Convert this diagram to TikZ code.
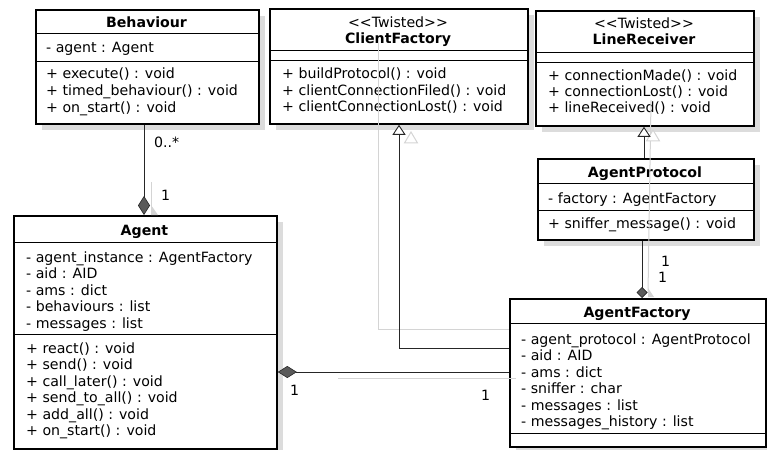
\documentclass[tikz,border=0pt]{standalone}
\usepackage{fontspec}
\setmainfont{DejaVu Sans}
\usetikzlibrary{arrows.meta,shadows}

\definecolor{shadowc}{HTML}{DCDCDC}
\definecolor{ghostc}{HTML}{D4D4D4}
\definecolor{diamc}{HTML}{5A5A5A}

\tikzset{
  classbox/.style={draw=black, line width=1.8pt, fill=white, inner sep=0pt,
    rectangle, anchor=north west,
    drop shadow={shadow xshift=6pt, shadow yshift=-6pt, fill=shadowc, opacity=1}},
  sepline/.style={draw=black, line width=0.9pt},
  member/.style={anchor=base west, inner sep=0pt, font=\fontsize{14.15}{16}\selectfont},
  cname/.style={anchor=base, inner sep=0pt, font=\fontsize{14.15}{16}\selectfont\bfseries},
  stereo/.style={anchor=base, inner sep=0pt, font=\fontsize{14.15}{16}\selectfont},
  mult/.style={anchor=base west, inner sep=0pt, font=\fontsize{14.15}{16}\selectfont},
  conn/.style={draw=black!85, line width=0.9pt},
  ghost/.style={draw=ghostc, line width=1pt},
  compose/.style={conn, -{Diamond[length=19pt, width=12pt, fill=diamc, line width=0.6pt]}},
  composesmall/.style={conn, -{Diamond[length=11pt, width=11pt, fill=diamc, line width=0.6pt]}},
  inherit/.style={conn, -{Triangle[length=10pt, width=13pt, fill=white, line width=0.9pt]}},
}

\begin{document}
\begin{tikzpicture}[x=1pt, y=-1pt]
\useasboundingbox (0,0) rectangle (767,449);

% ---------- Behaviour ----------
\node[classbox, minimum width=223pt, minimum height=114pt] (beh) at (35,9) {};
\draw[sepline] (beh.west |- 0,33) -- (beh.east |- 0,33);
\draw[sepline] (beh.west |- 0,61) -- (beh.east |- 0,61);
\node[cname] (behT) at (146.5,28) {Behaviour};
\node[member] (beh1) at (46,53) {- agent : Agent};
\node[member] (beh2) at (46,79) {+ execute() : void};
\node[member] (beh3) at (46,96) {+ timed\_behaviour() : void};
\node[member] (beh4) at (46,113) {+ on\_start() : void};

% ---------- ClientFactory ----------
\node[classbox, minimum width=258pt, minimum height=115pt] (cf) at (269,8) {};
\draw[sepline] (cf.west |- 0,50) -- (cf.east |- 0,50);
\draw[sepline] (cf.west |- 0,60) -- (cf.east |- 0,60);
\node[stereo] (cfS) at (398,28) {<{}<Twisted>{}>};
\node[cname] (cfT) at (398,44) {ClientFactory};
\node[member] (cf1) at (282,79) {+ buildProtocol() : void};
\node[member] (cf2) at (282,96) {+ clientConnectionFiled() : void};
\node[member] (cf3) at (282,112) {+ clientConnectionLost() : void};

% ---------- LineReceiver ----------
\node[classbox, minimum width=218pt, minimum height=115pt] (lr) at (535,10) {};
\draw[sepline] (lr.west |- 0,52) -- (lr.east |- 0,52);
\draw[sepline] (lr.west |- 0,62) -- (lr.east |- 0,62);
\node[stereo] (lrS) at (644,29) {<{}<Twisted>{}>};
\node[cname] (lrT) at (644,45) {LineReceiver};
\node[member] (lr1) at (548,81) {+ connectionMade() : void};
\node[member] (lr2) at (548,97) {+ connectionLost() : void};
\node[member] (lr3) at (548,113) {+ lineReceived() : void};

% ---------- AgentProtocol ----------
\node[classbox, minimum width=216pt, minimum height=81pt] (ap) at (537,158) {};
\draw[sepline] (ap.west |- 0,183) -- (ap.east |- 0,183);
\draw[sepline] (ap.west |- 0,210) -- (ap.east |- 0,210);
\node[cname] (apT) at (645,177) {AgentProtocol};
\node[member] (ap1) at (548,203) {- factory : AgentFactory};
\node[member] (ap2) at (548,228) {+ sniffer\_message() : void};

% ---------- Agent ----------
\node[classbox, minimum width=263pt, minimum height=233pt] (agent) at (13,215) {};
\draw[sepline] (agent.west |- 0,242) -- (agent.east |- 0,242);
\draw[sepline] (agent.west |- 0,334) -- (agent.east |- 0,334);
\node[cname] (agT) at (144.5,235) {Agent};
\node[member] (ag1) at (26,262) {- agent\_instance : AgentFactory};
\node[member] (ag2) at (26,278.5) {- aid : AID};
\node[member] (ag3) at (26,295) {- ams : dict};
\node[member] (ag4) at (26,311.5) {- behaviours : list};
\node[member] (ag5) at (26,328) {- messages : list};
\node[member] (ag6) at (26,353) {+ react() : void};
\node[member] (ag7) at (26,369.5) {+ send() : void};
\node[member] (ag8) at (26,386) {+ call\_later() : void};
\node[member] (ag9) at (26,402.5) {+ send\_to\_all() : void};
\node[member] (ag10) at (26,419) {+ add\_all() : void};
\node[member] (ag11) at (26,435.5) {+ on\_start() : void};

% ---------- AgentFactory ----------
\node[classbox, minimum width=256pt, minimum height=148pt] (af) at (509,298) {};
\draw[sepline] (af.west |- 0,323) -- (af.east |- 0,323);
\draw[sepline] (af.west |- 0,433) -- (af.east |- 0,433);
\node[cname] (afT) at (637,317) {AgentFactory};
\node[member] (af1) at (521,344) {- agent\_protocol : AgentProtocol};
\node[member] (af2) at (521,360.5) {- aid : AID};
\node[member] (af3) at (521,377) {- ams : dict};
\node[member] (af4) at (521,393.5) {- sniffer : char};
\node[member] (af5) at (521,410) {- messages : list};
\node[member] (af6) at (521,426.5) {- messages\_history : list};

% ---------- connector shadows ----------
\draw[ghost] (151,182) -- (151,214);
\fill[ghostc] (151,205) -- (158,215) -- (151,215) -- cycle;
\draw[ghost] (378,43) -- (378,329) -- (af.west |- 0,329);
\draw[ghost, fill=white] (411,132) -- (417.5,143) -- (404.5,143) -- cycle;
\draw[ghost] (651,100) -- (648,293);
\draw[ghost, fill=white] (653,130) -- (659.5,141) -- (646.5,141) -- cycle;
\fill[ghostc] (648,288) -- (654,297) -- (648,297) -- cycle;
\draw[ghost] (338,378) -- (516,378);

% ---------- connectors ----------
\draw[compose] (beh.south -| 144,0) -- (agent.north -| 144,0);
\draw[inherit] (af.west |- 0,348) -| (cf.south -| 399,0);
\draw[inherit] (ap.north -| 644,0) -- (lr.south -| 644,0);
\draw[composesmall] (ap.south -| 642,0) -- (af.north -| 642,0);
\draw[compose] (af.west |- 0,372) -- (agent.east |- 0,372);

% ---------- multiplicities ----------
\node[mult] (m1) at (154,148) {0..*};
\node[mult] (m2) at (161,200) {1};
\node[mult] (m3) at (661,266) {1};
\node[mult] (m4) at (658,282) {1};
\node[mult] (m5) at (290,395) {1};
\node[mult] (m6) at (481,400) {1};
\end{tikzpicture}
\end{document}
